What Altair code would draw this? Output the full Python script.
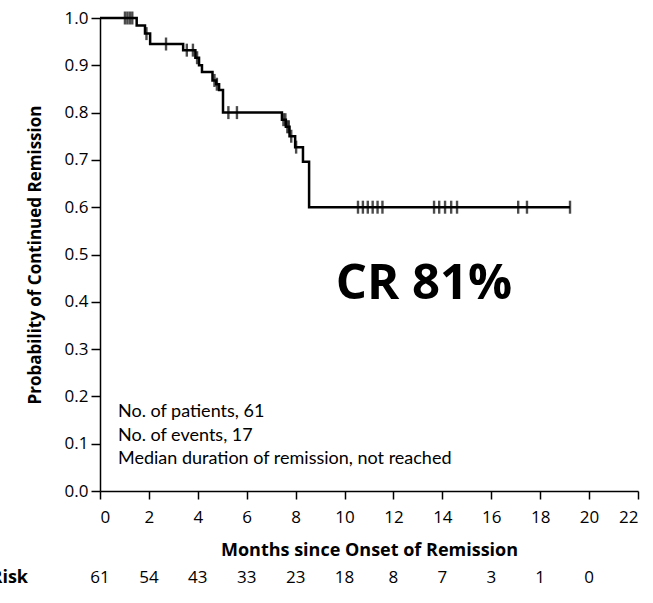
import altair as alt
import pandas as pd

# Kaplan-Meier estimate: step times (months) and survival after each step
step_months = [0, 1.5, 1.84, 2.05, 3.4, 3.9, 4.05, 4.17, 4.6, 4.75, 4.87, 5.03,
               7.44, 7.6, 7.75, 7.98, 8.3, 8.55, 19.22]
step_surv = [1.0, 0.984, 0.967, 0.945, 0.932, 0.916, 0.90, 0.886, 0.868, 0.86,
             0.848, 0.80, 0.785, 0.77, 0.75, 0.727, 0.696, 0.60, 0.60]

# Censored observations (tick marks on the curve)
censor_months = [1.02, 1.12, 1.22, 1.32, 1.9, 2.7, 3.55, 3.8, 3.97, 4.68, 4.78,
                 5.25, 5.6, 7.5, 7.58, 7.66, 7.72, 7.82, 8.02,
                 10.55, 10.75, 10.95, 11.15, 11.35, 11.55,
                 13.66, 13.87, 14.11, 14.36, 14.6, 17.1, 17.46, 19.22]
censor_surv = [1.0, 1.0, 1.0, 1.0, 0.967, 0.945, 0.932, 0.932, 0.916, 0.868, 0.86,
               0.80, 0.80, 0.785, 0.785, 0.77, 0.77, 0.75, 0.727,
               0.60, 0.60, 0.60, 0.60, 0.60, 0.60,
               0.60, 0.60, 0.60, 0.60, 0.60, 0.60, 0.60, 0.60]

# Number at risk below the axis
risk_months = [0, 2, 4, 6, 8, 10, 12, 14, 16, 18, 20]
risk_counts = [61, 54, 43, 33, 23, 18, 8, 7, 3, 1, 0]

notes = ["No. of patients, 61", "No. of events, 17",
         "Median duration of remission, not reached"]

FONT = "Open Sans"
NOTE_FONT = "Lato"

curve_df = pd.DataFrame({"month": step_months, "surv": step_surv})
censor_df = pd.DataFrame({"month": censor_months, "surv": censor_surv})
risk_df = pd.DataFrame({"month": risk_months, "n": [str(v) for v in risk_counts]})

x_scale = alt.Scale(domain=[0, 22], nice=False, zero=False)
y_scale = alt.Scale(domain=[0, 1], nice=False)

x_axis = alt.Axis(values=list(range(0, 23, 2)), title="Months since Onset of Remission",
                  grid=False, labelFontSize=17, titleFontSize=18, titleFontWeight="bold",
                  tickSize=8, labelPadding=10, titlePadding=16, labelFont=FONT, titleFont=FONT,
                  domainColor="black", tickColor="black", labelColor="black", titleColor="black",
                  domainWidth=1.5, tickWidth=1.5)
y_axis = alt.Axis(values=[i / 10 for i in range(11)], format=".1f",
                  title="Probability of Continued Remission",
                  grid=False, labelFontSize=17, titleFontSize=17, titleFontWeight="bold",
                  tickSize=9, labelPadding=3, titlePadding=20, labelFont=FONT, titleFont=FONT,
                  domainColor="black", tickColor="black", labelColor="black", titleColor="black",
                  domainWidth=1.5, tickWidth=1.5)

curve = alt.Chart(curve_df).mark_line(
    interpolate="step-after", color="black", strokeWidth=2.5
).encode(
    x=alt.X("month:Q", scale=x_scale, axis=x_axis),
    y=alt.Y("surv:Q", scale=y_scale, axis=y_axis),
)

censors = alt.Chart(censor_df).mark_tick(
    orient="vertical", color="black", size=13, thickness=2.4
).encode(
    x=alt.X("month:Q", scale=x_scale),
    y=alt.Y("surv:Q", scale=y_scale),
)


def note_layer(line, ypix):
    return alt.Chart(pd.DataFrame({"t": [line]})).mark_text(
        align="left", baseline="middle", fontSize=18, font=NOTE_FONT, color="black"
    ).encode(x=alt.value(18), y=alt.value(ypix), text="t:N")


note_layers = [note_layer(line, 394 + 23.5 * i) for i, line in enumerate(notes)]

cr_text = alt.Chart(pd.DataFrame({"t": ["CR 81%"]})).mark_text(
    align="center", baseline="middle", fontSize=49, fontWeight="bold", font=FONT, color="black"
).encode(x=alt.value(324), y=alt.value(266), text="t:N")

risk_text = alt.Chart(risk_df).mark_text(
    align="center", baseline="middle", fontSize=17, font=FONT, color="black"
).encode(
    x=alt.X("month:Q", scale=x_scale),
    y=alt.value(560),
    text="n:N",
)

risk_label = alt.Chart(pd.DataFrame({"t": ["No. at Risk"]})).mark_text(
    align="right", baseline="middle", fontSize=18, fontWeight="bold", font=FONT, color="black"
).encode(x=alt.value(-72), y=alt.value(560), text="t:N")

chart = alt.layer(curve, censors, *note_layers, cr_text, risk_text, risk_label).properties(
    width=538, height=473,
    autosize=alt.AutoSizeParams(type="none"),
    padding={"left": 100, "top": 18, "right": 15, "bottom": 112},
    background="white",
).configure_view(stroke=None)

chart.save("out.html", embed_options={"renderer": "svg", "actions": False})
